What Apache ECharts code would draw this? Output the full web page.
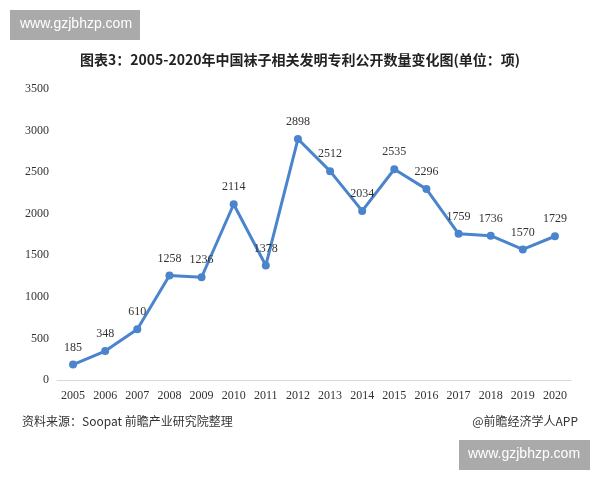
<!DOCTYPE html>
<html><head><meta charset="utf-8">
<script src="https://cdn.jsdelivr.net/npm/echarts@6/dist/echarts.min.js"></script>
<style>html,body{margin:0;padding:0;background:#fff}#c{width:600px;height:480px}</style>
</head><body><div id="c"></div>
<script>
var years = ['2005','2006','2007','2008','2009','2010','2011','2012','2013','2014','2015','2016','2017','2018','2019','2020'];
var patents = [185,348,610,1258,1236,2114,1378,2898,2512,2034,2535,2296,1759,1736,1570,1729];
var titleText = '图表3：2005-2020年中国袜子相关发明专利公开数量变化图(单位：项)';
var sourceText = '资料来源：Soopat 前瞻产业研究院整理';
var creditText = '@前瞻经济学人APP';
var siteText = 'www.gzjbhzp.com';

var chart = echarts.init(document.getElementById('c'));
chart.setOption({
  backgroundColor: '#fff',
  animation: false,
  title: {
    text: titleText, left: 'center', top: 48,
    textStyle: {fontFamily: 'Noto Sans CJK SC', fontSize: 14, fontWeight: 'bold', color: '#222'}
  },
  grid: {left: 57, right: 29, top: 89, bottom: 100},
  xAxis: {
    type: 'category', data: years, boundaryGap: true,
    axisLine: {lineStyle: {color: '#d9d9d9'}},
    axisTick: {show: false},
    axisLabel: {color: '#333', fontFamily: 'Liberation Serif', fontSize: 12, margin: 10}
  },
  yAxis: {
    type: 'value', min: 0, max: 3500, interval: 500,
    axisLine: {show: false}, axisTick: {show: false},
    splitLine: {show: false},
    axisLabel: {color: '#333', fontFamily: 'Liberation Serif', fontSize: 12, margin: 8,
      formatter: function (v) { return String(v); }}
  },
  series: [{
    type: 'line', data: patents,
    symbol: 'circle', symbolSize: 8,
    lineStyle: {color: '#4a84cc', width: 3},
    itemStyle: {color: '#4a84cc'},
    label: {show: true, position: 'top', distance: 7, color: '#333', fontFamily: 'Liberation Serif', fontSize: 12}
  }],
  graphic: [
    {type: 'rect', left: 10, top: 10, shape: {width: 130, height: 30}, style: {fill: '#aaaaaa'}},
    {type: 'text', left: 20, top: 17, style: {text: siteText, fill: '#fff', font: '14px "Liberation Sans"'}},
    {type: 'rect', left: 459, top: 440, shape: {width: 131, height: 30}, style: {fill: '#aaaaaa'}},
    {type: 'text', left: 468, top: 447, style: {text: siteText, fill: '#fff', font: '14px "Liberation Sans"'}},
    {type: 'text', left: 22, top: 415, style: {text: sourceText, fill: '#333', font: '12px "Noto Sans CJK SC"'}},
    {type: 'text', right: 22, top: 415, style: {text: creditText, fill: '#333', font: '12px "Noto Sans CJK SC"'}}
  ]
});
</script></body></html>
